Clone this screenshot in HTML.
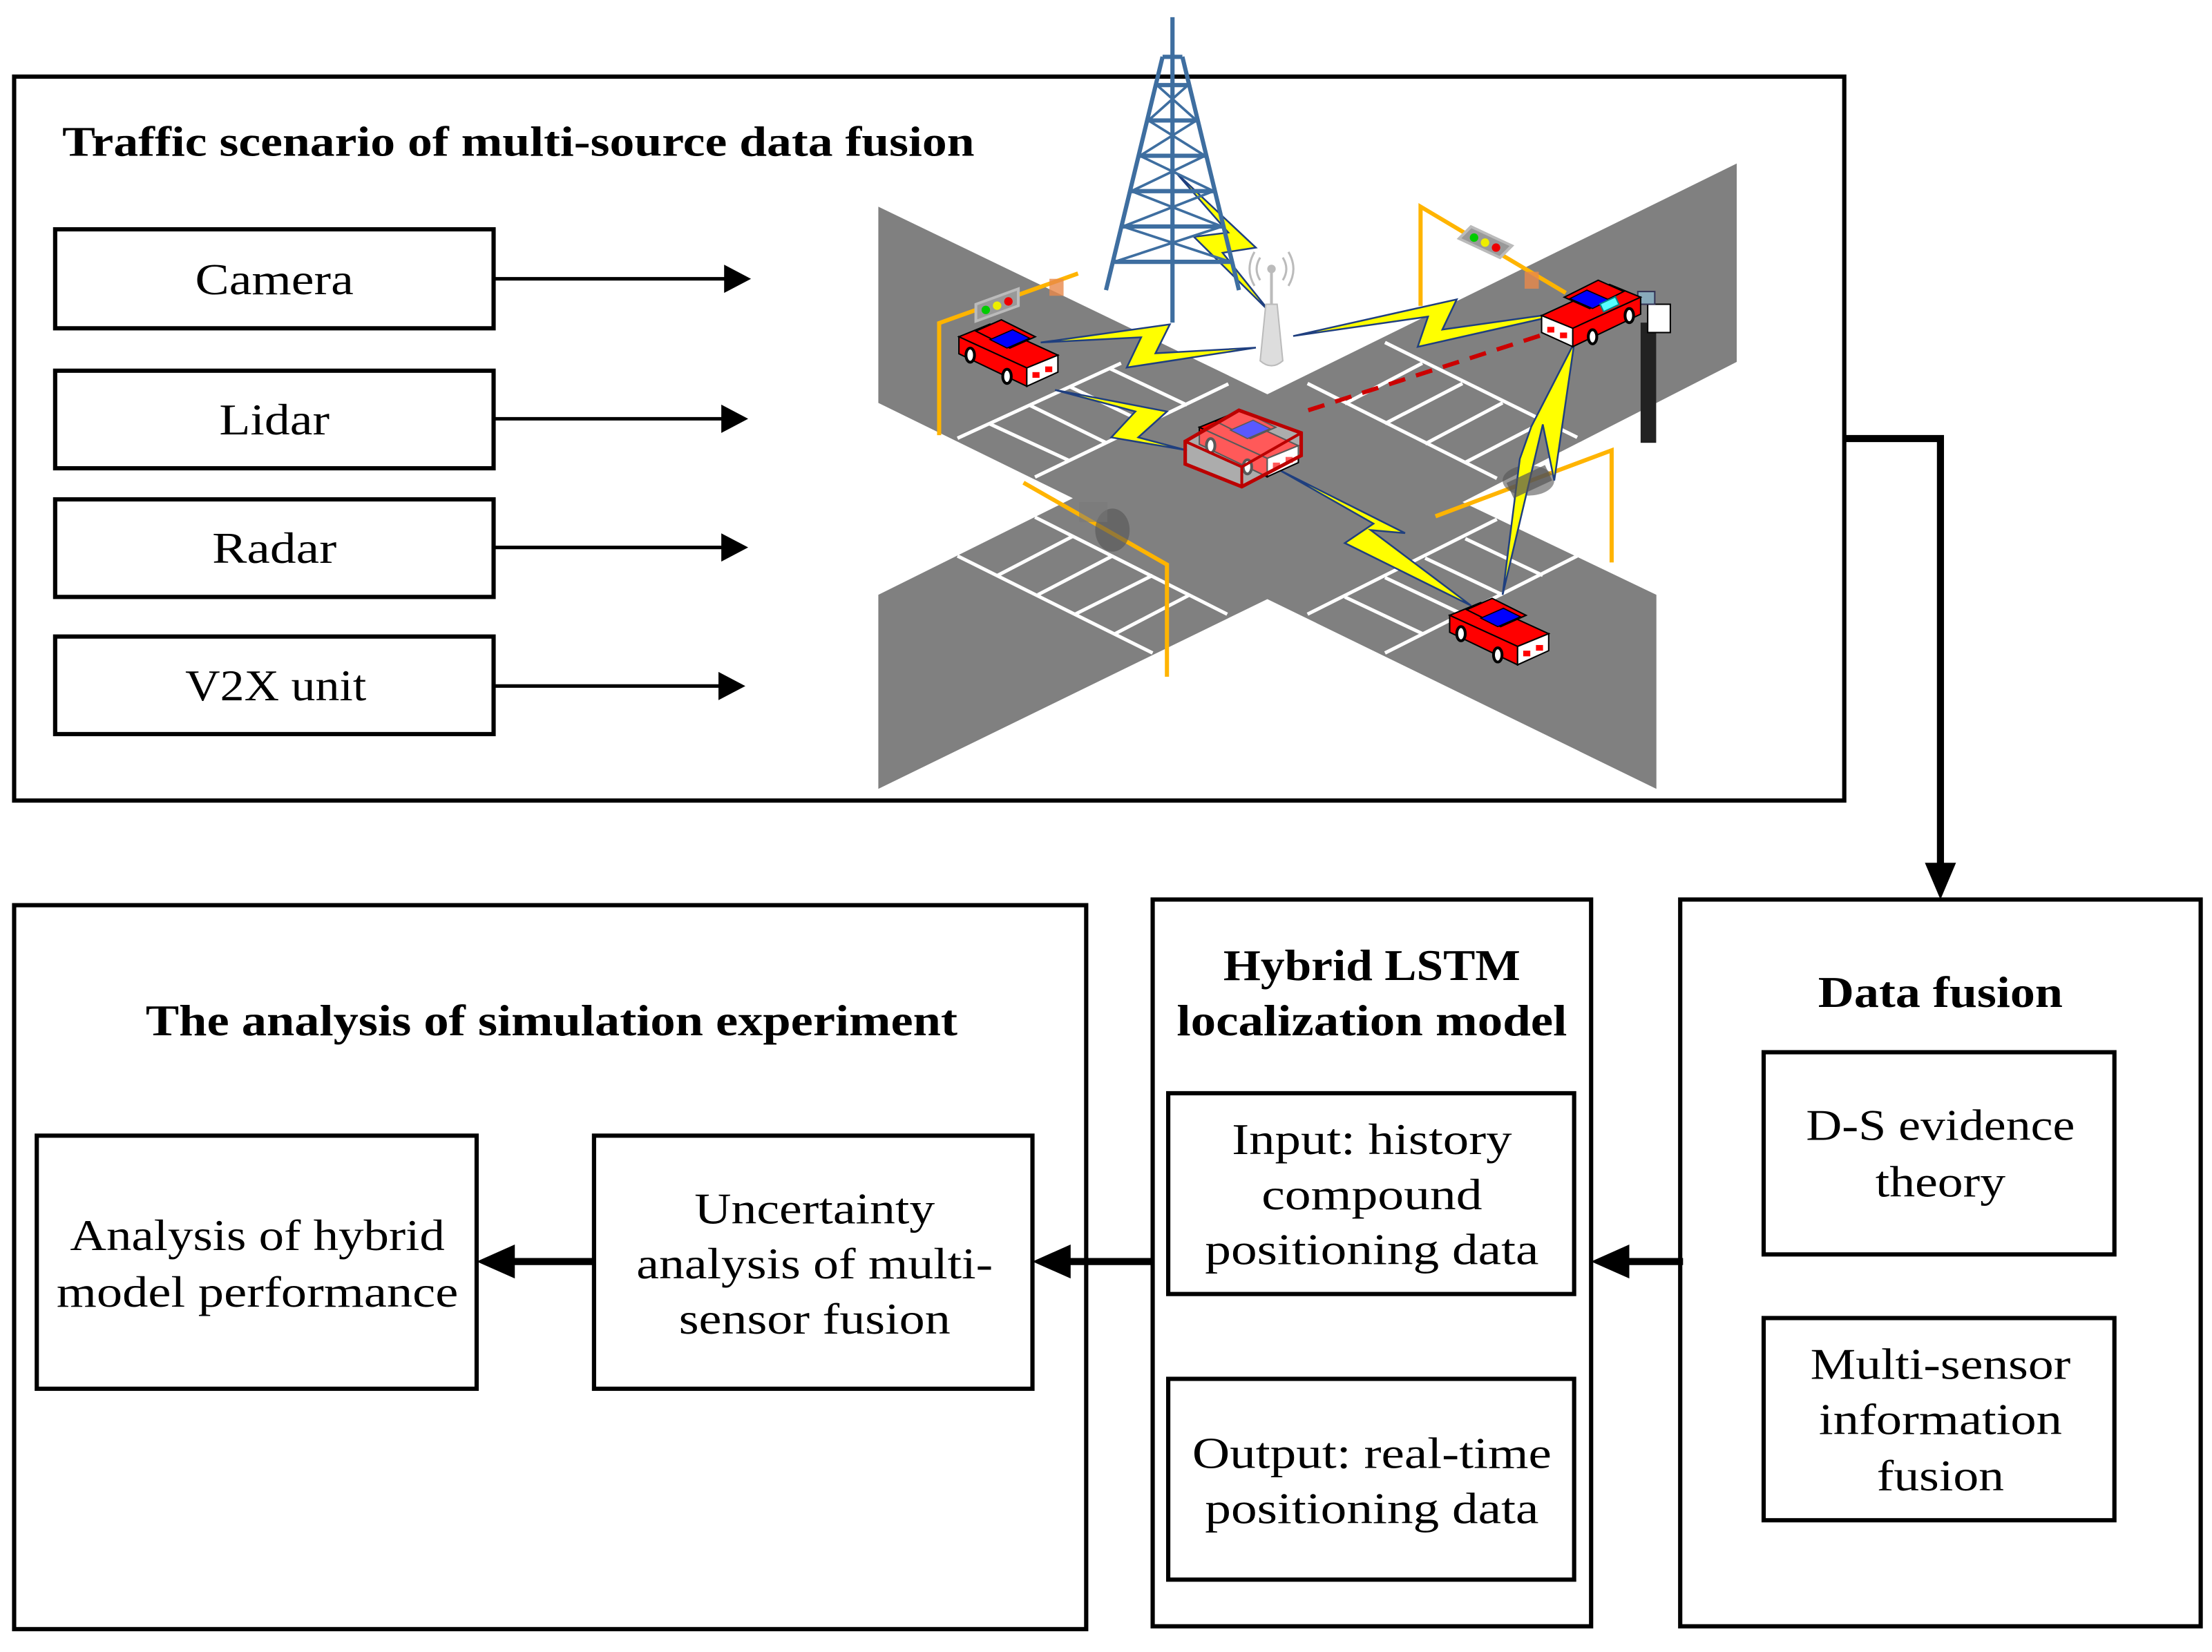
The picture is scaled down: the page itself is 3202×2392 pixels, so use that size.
<!DOCTYPE html>
<html><head><meta charset="utf-8"><style>
html,body{margin:0;padding:0;background:#fff}
svg{display:block}
text{font-family:"Liberation Serif",serif;fill:#000}
</style></head><body>
<svg width="3202" height="2392" viewBox="0 0 1564 1168" xmlns="http://www.w3.org/2000/svg">
<defs>
<g id="car">
 <polygon points="0,12 22,3 70,25 48,34" fill="#f00" stroke="#000" stroke-width="1"/>
 <polygon points="0,12 48,34 48,47 0,24" fill="#f00" stroke="#000" stroke-width="1"/>
 <polygon points="48,34 70,25 70,37 48,47" fill="#fff" stroke="#000" stroke-width="1"/>
 <rect x="52" y="37" width="5" height="4" fill="#f00"/><rect x="61" y="33" width="5" height="4" fill="#f00"/>
 <polygon points="12,8 30,0 54,12 36,20" fill="#f00" stroke="#000" stroke-width="1"/>
 <polygon points="22,14 38,7 50,13 34,20" fill="#00f" stroke="#000" stroke-width="0.8"/>
 <ellipse cx="8" cy="25" rx="3" ry="5" fill="#fff" stroke="#000" stroke-width="2"/>
 <ellipse cx="34" cy="40" rx="3" ry="5" fill="#fff" stroke="#000" stroke-width="2"/>
</g>
<g id="tl"><rect x="0" y="0" width="30" height="12" fill="#999" stroke="#bbb" stroke-width="2" transform="skewY(-20)"/><circle cx="7" cy="4" r="3" fill="#0c0"/><circle cx="15" cy="1" r="3" fill="#ee0"/><circle cx="23" cy="-2" r="3" fill="#e00"/></g>
</defs>

<rect x="10" y="54" width="1294" height="512" fill="none" stroke="#000" stroke-width="3"/>
<text x="44" y="110" font-size="30" font-weight="bold" textLength="645" lengthAdjust="spacingAndGlyphs">Traffic scenario of multi-source data fusion</text>

<g fill="none" stroke="#000" stroke-width="3">
<rect x="39" y="162" width="310" height="70"/>
<rect x="39" y="262" width="310" height="69"/>
<rect x="39" y="353" width="310" height="69"/>
<rect x="39" y="450" width="310" height="69"/>
</g>
<g font-size="31" text-anchor="middle">
<text x="194" y="208" textLength="112" lengthAdjust="spacingAndGlyphs">Camera</text>
<text x="194" y="307" textLength="78" lengthAdjust="spacingAndGlyphs">Lidar</text>
<text x="194" y="398" textLength="88" lengthAdjust="spacingAndGlyphs">Radar</text>
<text x="195" y="495" textLength="128" lengthAdjust="spacingAndGlyphs">V2X unit</text>
</g>
<g stroke="#000" stroke-width="2.5">
<line x1="349" y1="197" x2="520" y2="197"/>
<line x1="349" y1="296" x2="518" y2="296"/>
<line x1="349" y1="387" x2="518" y2="387"/>
<line x1="349" y1="485" x2="516" y2="485"/>
</g>
<g fill="#000">
<path d="M512,187 L531,197 L512,207 Z"/>
<path d="M510,286 L529,296 L510,306 Z"/>
<path d="M510,377 L529,387 L510,397 Z"/>
<path d="M508,475 L527,485 L508,495 Z"/>
</g>

<g transform="matrix(0.4057,0,0,0.305,612.1,98.7)">
 <polygon points="22,155 700,590 1518,55 1518,515 1040,840 1378,1055 1378,1505 700,1065 22,1505 22,1055 361,831 22,610" fill="#808080"/>
 <g stroke="#fff" fill="none">
  <line x1="160" y1="692" x2="445" y2="518" stroke-width="5" vector-effect="non-scaling-stroke"/>
  <line x1="295" y1="782" x2="632" y2="566" stroke-width="5" vector-effect="non-scaling-stroke"/>
  <line x1="215" y1="658" x2="355" y2="744" stroke-width="5" vector-effect="non-scaling-stroke"/>
  <line x1="285" y1="615" x2="420" y2="703" stroke-width="5" vector-effect="non-scaling-stroke"/>
  <line x1="355" y1="572" x2="490" y2="658" stroke-width="5" vector-effect="non-scaling-stroke"/>
  <line x1="425" y1="530" x2="560" y2="615" stroke-width="5" vector-effect="non-scaling-stroke"/>
  <line x1="770" y1="565" x2="1100" y2="785" stroke-width="5" vector-effect="non-scaling-stroke"/>
  <line x1="905" y1="470" x2="1240" y2="690" stroke-width="5" vector-effect="non-scaling-stroke"/>
  <line x1="835" y1="612" x2="970" y2="518" stroke-width="5" vector-effect="non-scaling-stroke"/>
  <line x1="905" y1="658" x2="1040" y2="565" stroke-width="5" vector-effect="non-scaling-stroke"/>
  <line x1="975" y1="705" x2="1110" y2="610" stroke-width="5" vector-effect="non-scaling-stroke"/>
  <line x1="1045" y1="748" x2="1180" y2="655" stroke-width="5" vector-effect="non-scaling-stroke"/>
  <line x1="160" y1="965" x2="500" y2="1190" stroke-width="5" vector-effect="non-scaling-stroke"/>
  <line x1="295" y1="875" x2="630" y2="1100" stroke-width="5" vector-effect="non-scaling-stroke"/>
  <line x1="230" y1="1010" x2="360" y2="920" stroke-width="5" vector-effect="non-scaling-stroke"/>
  <line x1="300" y1="1055" x2="430" y2="965" stroke-width="5" vector-effect="non-scaling-stroke"/>
  <line x1="365" y1="1100" x2="500" y2="1010" stroke-width="5" vector-effect="non-scaling-stroke"/>
  <line x1="435" y1="1145" x2="565" y2="1055" stroke-width="5" vector-effect="non-scaling-stroke"/>
  <line x1="770" y1="1100" x2="1100" y2="880" stroke-width="5" vector-effect="non-scaling-stroke"/>
  <line x1="905" y1="1190" x2="1240" y2="965" stroke-width="5" vector-effect="non-scaling-stroke"/>
  <line x1="835" y1="1060" x2="970" y2="1145" stroke-width="5" vector-effect="non-scaling-stroke"/>
  <line x1="905" y1="1015" x2="1040" y2="1100" stroke-width="5" vector-effect="non-scaling-stroke"/>
  <line x1="975" y1="970" x2="1110" y2="1055" stroke-width="5" vector-effect="non-scaling-stroke"/>
  <line x1="1045" y1="925" x2="1180" y2="1010" stroke-width="5" vector-effect="non-scaling-stroke"/>
 </g>
 <g stroke="#FFB400" fill="none">
  <polyline points="128,685 128,425 370,310" stroke-width="6" vector-effect="non-scaling-stroke"/>
  <polyline points="275,795 525,985 525,1245" stroke-width="6" vector-effect="non-scaling-stroke"/>
  <polyline points="967,385 967,155 1220,355" stroke-width="6" vector-effect="non-scaling-stroke"/>
  <polyline points="993,873 1300,720 1300,980" stroke-width="6" vector-effect="non-scaling-stroke"/>
 </g>
 <ellipse cx="430" cy="905" rx="30" ry="50" fill="#555" opacity="0.6"/>
 <ellipse cx="1155" cy="790" rx="45" ry="35" fill="#555" opacity="0.6"/>
 <g fill="#ff0" stroke="#1f3f7f">
  <polygon points="305,470 530,428 505,495 680,482 455,528 480,458" stroke-width="2.5" vector-effect="non-scaling-stroke"/>
  <polygon points="540,75 680,250 622,262 705,400 572,225 632,215" stroke-width="2.5" vector-effect="non-scaling-stroke"/>
  <polygon points="745,455 1030,370 1005,440 1245,395 962,480 980,410" stroke-width="2.5" vector-effect="non-scaling-stroke"/>
  <polygon points="330,580 525,630 475,690 560,720 428,690 470,630" stroke-width="2.5" vector-effect="non-scaling-stroke"/>
  <polygon points="720,765 940,912 880,905 1055,1080 835,935 885,890" stroke-width="2.5" vector-effect="non-scaling-stroke"/>
  <polygon points="1235,470 1200,790 1180,660 1110,1055 1140,740 1160,665" stroke-width="2.5" vector-effect="non-scaling-stroke"/>
 </g>
</g>

<g stroke="#3E6EA0" stroke-width="3" fill="none">
 <line x1="829" y1="12" x2="829" y2="40"/>
 <polyline points="822,40 782,205"/>
 <polyline points="836,40 876,205"/>
 <line x1="829" y1="40" x2="829" y2="228"/>
 <line x1="822" y1="40" x2="836" y2="40"/>
 <line x1="818" y1="60" x2="840" y2="60"/><line x1="812" y1="85" x2="846" y2="85"/>
 <line x1="806" y1="110" x2="852" y2="110"/><line x1="800" y1="135" x2="858" y2="135"/>
 <line x1="794" y1="160" x2="864" y2="160"/><line x1="788" y1="185" x2="870" y2="185"/>
 <polyline points="818,60 846,85 806,110 858,135 794,160 870,185" stroke-width="1.8"/>
 <polyline points="840,60 812,85 852,110 800,135 864,160 788,185" stroke-width="1.8"/>
</g>
<path d="M895,215 L903,215 L907,255 Q899,262 891,255 Z" fill="#ddd" stroke="#bbb"/>
<line x1="899" y1="190" x2="899" y2="215" stroke="#bbb" stroke-width="2"/>
<circle cx="899" cy="190" r="3" fill="#bbb"/>
<path d="M891,182 Q886,190 891,198 M907,182 Q912,190 907,198 M887,178 Q880,190 887,202 M911,178 Q918,190 911,202" stroke="#bbb" fill="none" stroke-width="1.5"/>

<line x1="925" y1="290" x2="1105" y2="232" stroke="#c00" stroke-width="3" stroke-dasharray="12,8"/>

<use href="#tl" x="690" y="215"/>
<use href="#tl" x="1036" y="170" transform="rotate(45 1050 170)"/>
<rect x="742" y="197" width="10" height="12" fill="#e8884a" opacity="0.8"/>
<rect x="1078" y="192" width="10" height="12" fill="#e8884a" opacity="0.8"/>
<rect x="763" y="355" width="20" height="14" fill="#777" opacity="0.5"/>
<rect x="1066" y="335" width="30" height="12" fill="#555" opacity="0.7" transform="rotate(-25 1080 340)"/>

<rect x="1160" y="228" width="11" height="85" fill="#222"/>
<rect x="1165" y="215" width="16" height="20" fill="#fff" stroke="#000"/>
<rect x="1158" y="206" width="12" height="9" fill="#8ab" stroke="#335"/>

<use href="#car" x="678" y="226"/>
<use href="#car" transform="translate(1160,198) scale(-1,1)"/>
<rect x="1132" y="212" width="12" height="6" fill="#5ff" stroke="#088" transform="rotate(-25 1138 215)"/>
<use href="#car" x="1025" y="423"/>
<use href="#car" x="848" y="290"/>
<polygon points="838,312 876,290 920,306 920,322 878,344 838,328" fill="#fff" fill-opacity="0.35" stroke="#b00" stroke-width="2.5"/>
<line x1="878" y1="330" x2="878" y2="344" stroke="#b00" stroke-width="2"/>
<polyline points="838,312 878,330 920,306" fill="none" stroke="#b00" stroke-width="2"/>

<polyline points="1304,310 1372,310 1372,615" fill="none" stroke="#000" stroke-width="5"/>
<path d="M1361,610 L1372,636 L1383,610 Z"/>

<g fill="none" stroke="#000" stroke-width="3">
<rect x="1188" y="636" width="368" height="514"/>
<rect x="1247" y="744" width="248" height="143"/>
<rect x="1247" y="932" width="248" height="143"/>
<rect x="815" y="636" width="310" height="514"/>
<rect x="826" y="773" width="287" height="142"/>
<rect x="826" y="975" width="287" height="142"/>
<rect x="10" y="640" width="758" height="512"/>
<rect x="26" y="803" width="311" height="179"/>
<rect x="420" y="803" width="310" height="179"/>
</g>
<g font-size="31" text-anchor="middle" lengthAdjust="spacingAndGlyphs">
<text x="1372" y="712" font-weight="bold" textLength="173" lengthAdjust="spacingAndGlyphs">Data fusion</text>
<text x="1372" y="806" textLength="190" lengthAdjust="spacingAndGlyphs">D-S evidence</text>
<text x="1372" y="846" textLength="92" lengthAdjust="spacingAndGlyphs">theory</text>
<text x="1372" y="975" textLength="184" lengthAdjust="spacingAndGlyphs">Multi-sensor</text>
<text x="1372" y="1014" textLength="172" lengthAdjust="spacingAndGlyphs">information</text>
<text x="1372" y="1054" textLength="90" lengthAdjust="spacingAndGlyphs">fusion</text>
<text x="970" y="693" font-weight="bold" textLength="210" lengthAdjust="spacingAndGlyphs">Hybrid LSTM</text>
<text x="970" y="732" font-weight="bold" textLength="276" lengthAdjust="spacingAndGlyphs">localization model</text>
<text x="970" y="816" textLength="198" lengthAdjust="spacingAndGlyphs">Input: history</text>
<text x="970" y="855" textLength="156" lengthAdjust="spacingAndGlyphs">compound</text>
<text x="970" y="894" textLength="236" lengthAdjust="spacingAndGlyphs">positioning data</text>
<text x="970" y="1038" textLength="254" lengthAdjust="spacingAndGlyphs">Output: real-time</text>
<text x="970" y="1077" textLength="236" lengthAdjust="spacingAndGlyphs">positioning data</text>
<text x="390" y="732" font-weight="bold" textLength="574" lengthAdjust="spacingAndGlyphs">The analysis of simulation experiment</text>
<text x="182" y="884" textLength="265" lengthAdjust="spacingAndGlyphs">Analysis of hybrid</text>
<text x="182" y="924" textLength="284" lengthAdjust="spacingAndGlyphs">model performance</text>
<text x="576" y="865" textLength="170" lengthAdjust="spacingAndGlyphs">Uncertainty</text>
<text x="576" y="904" textLength="252" lengthAdjust="spacingAndGlyphs">analysis of multi-</text>
<text x="576" y="943" textLength="192" lengthAdjust="spacingAndGlyphs">sensor fusion</text>
</g>
<g stroke="#000" stroke-width="5">
<line x1="1190" y1="892" x2="1145" y2="892"/>
<line x1="815" y1="892" x2="750" y2="892"/>
<line x1="420" y1="892" x2="357" y2="892"/>
</g>
<g fill="#000">
<path d="M1152,880 L1125,892 L1152,904 Z"/>
<path d="M757,880 L730,892 L757,904 Z"/>
<path d="M364,880 L337,892 L364,904 Z"/>
</g>
</svg>
</body></html>
